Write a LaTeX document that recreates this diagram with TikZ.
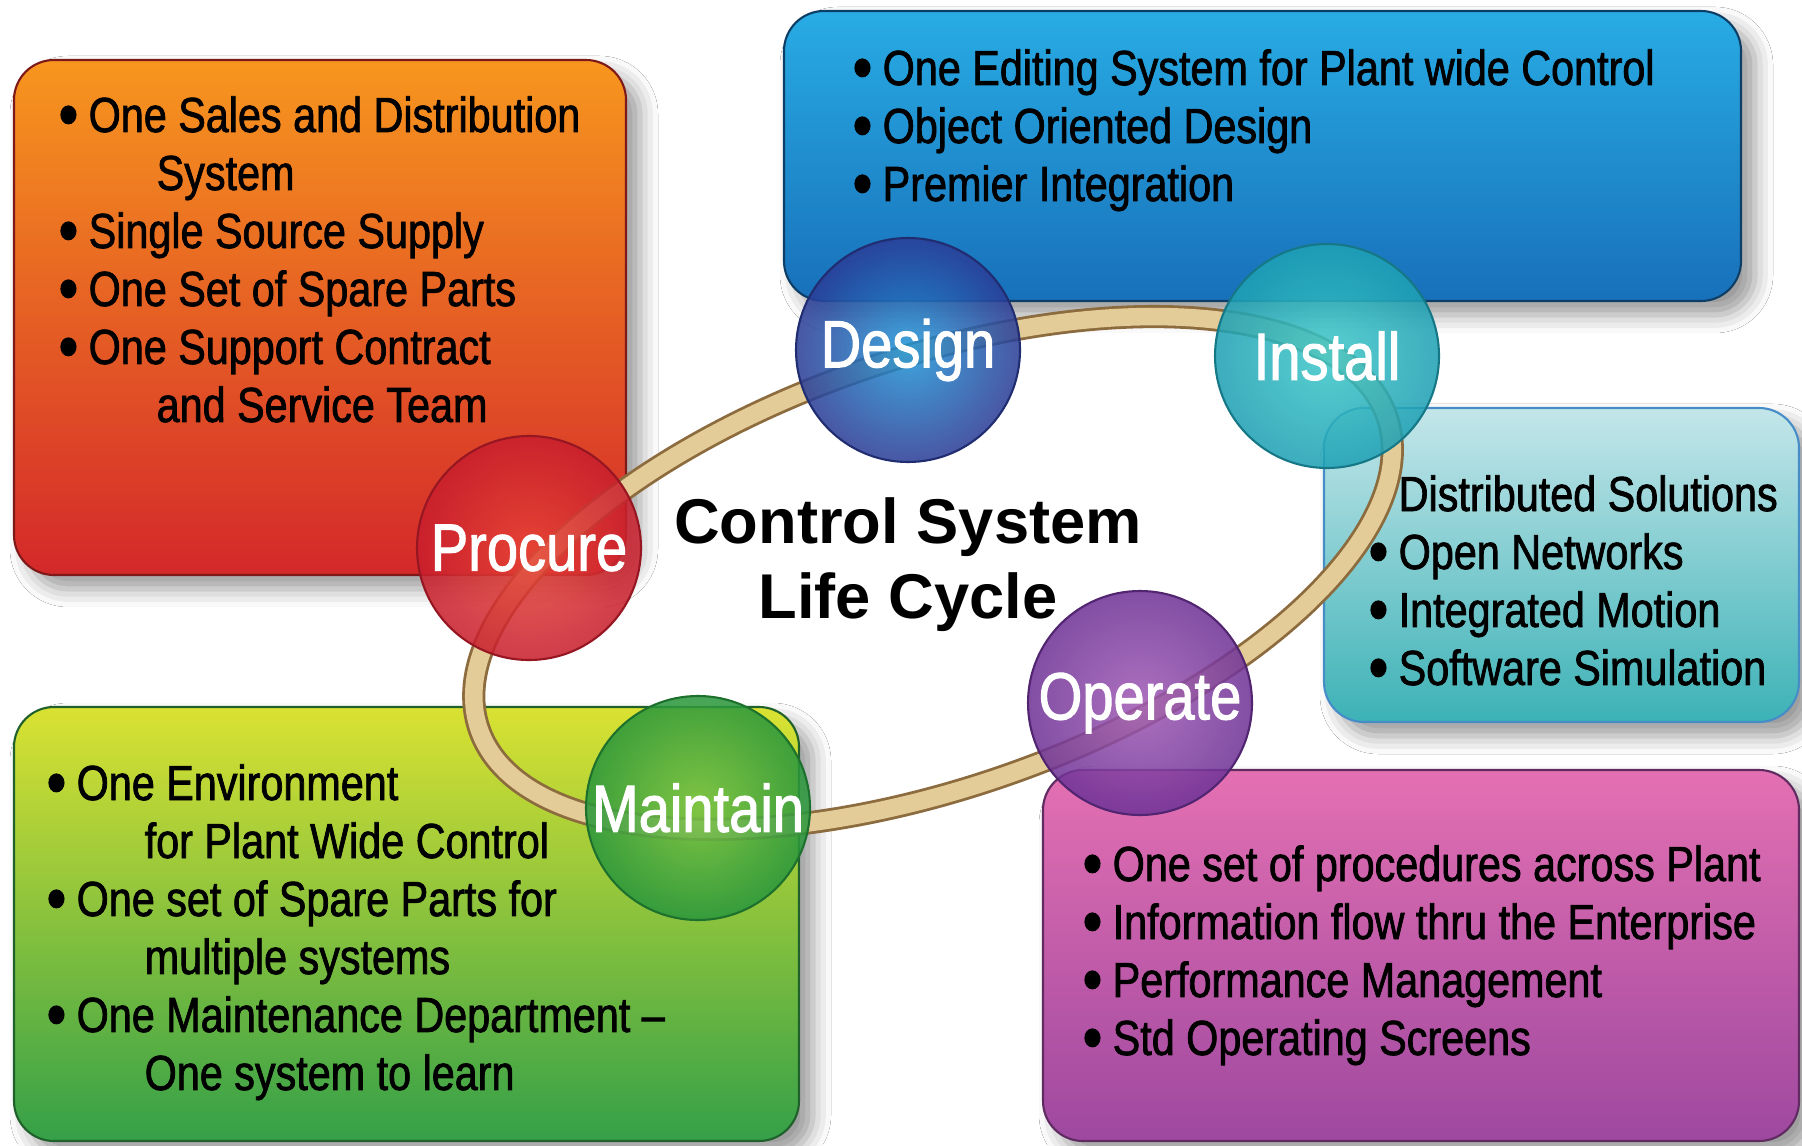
\documentclass[tikz,border=0pt]{standalone}
\usepackage{graphicx}
\usepackage{fontspec}
\setmainfont{Liberation Sans}
\newfontfamily\narrowfont[FakeStretch=0.84,FakeBold=1.5]{Liberation Sans}
\usetikzlibrary{shadows.blur}

\definecolor{orangetop}{RGB}{247,150,30}
\definecolor{orangebot}{RGB}{212,40,42}
\definecolor{bluetop}{RGB}{40,172,228}
\definecolor{bluebot}{RGB}{24,112,186}
\definecolor{tealtop}{RGB}{196,230,234}
\definecolor{tealbot}{RGB}{60,178,182}
\definecolor{greentop}{RGB}{218,226,50}
\definecolor{greenbot}{RGB}{52,160,72}
\definecolor{pinktop}{RGB}{228,112,178}
\definecolor{pinkbot}{RGB}{158,72,160}
\definecolor{ringtan}{RGB}{228,204,152}
\definecolor{ringbrown}{RGB}{140,108,62}
\definecolor{designin}{RGB}{30,150,215}
\definecolor{designout}{RGB}{43,60,150}
\definecolor{installin}{RGB}{60,200,200}
\definecolor{installout}{RGB}{30,160,180}
\definecolor{procin}{RGB}{232,70,55}
\definecolor{procout}{RGB}{200,30,45}
\definecolor{maintin}{RGB}{120,195,70}
\definecolor{maintout}{RGB}{40,150,60}
\definecolor{operin}{RGB}{160,90,180}
\definecolor{operout}{RGB}{110,50,150}

\newcommand{\bul}[1]{\hbox{\makebox[0.30cm][l]{\raisebox{-0.1em}{\scalebox{1.35}{\textbullet}}}#1}}
\newcommand{\cnt}[1]{\hbox{\hspace*{0.98cm}#1}}
\newcommand{\hdl}[1]{\hbox{\hspace*{0.30cm}#1}}
\newcommand{\itemlist}[1]{\vtop{\baselineskip=16.5pt #1}}

\begin{document}
\begin{tikzpicture}[
    every node/.append style={inner sep=0pt},
    card/.style={rounded corners=0.4cm, line width=0.6pt,
        blur shadow={shadow xshift=0.14cm, shadow yshift=-0.14cm, shadow blur radius=0.18cm, shadow opacity=40}},
    listtext/.style={anchor=base west, font=\narrowfont\fontsize{14pt}{16.5pt}\selectfont},
    phase/.style={circle, minimum size=2.24cm, line width=0.6pt, fill opacity=0.86, text opacity=1,
        text=white, font=\narrowfont\fontsize{19pt}{22pt}\selectfont},
    ball/.style 2 args={inner color=#1, outer color=#2, draw=#2!75!black}
  ]
    \useasboundingbox (0,0) rectangle (18.02,11.45);
    \fill[white] (0,0) rectangle (18.02,11.45);

    \node[card, top color=orangetop, bottom color=orangebot, draw=orangebot!60!black,
        minimum width=6.12cm, minimum height=5.15cm] (procbox) at (3.20,8.275) {};
    \node[card, top color=bluetop, bottom color=bluebot, draw=bluebot!55!black,
        minimum width=9.57cm, minimum height=2.90cm] (designbox) at (12.625,9.89) {};
    \node[card, top color=tealtop, bottom color=tealbot, draw=bluebot!80!white,
        minimum width=4.75cm, minimum height=3.14cm] (installbox) at (15.615,5.80) {};
    \node[card, top color=greentop, bottom color=greenbot, draw=greenbot!60!black,
        minimum width=7.85cm, minimum height=4.34cm] (maintbox) at (4.065,2.21) {};
    \node[card, top color=pinktop, bottom color=pinkbot, draw=pinkbot!60!black,
        minimum width=7.56cm, minimum height=3.71cm] (operbox) at (14.21,1.895) {};

    \node[listtext] (proctext) at (0.58,10.13) {\itemlist{%
        \bul{One Sales and Distribution}\cnt{System}%
        \bul{Single Source Supply}\bul{One Set of Spare Parts}%
        \bul{One Support Contract}\cnt{and Service Team}}};
    \node[listtext] (designtext) at (8.52,10.60) {\itemlist{%
        \bul{One Editing System for Plant wide Control}%
        \bul{Object Oriented Design}\bul{Premier Integration}}};
    \node[listtext] (installtext) at (13.68,6.34) {\itemlist{%
        \hdl{Distributed Solutions}\bul{Open Networks}%
        \bul{Integrated Motion}\bul{Software Simulation}}};
    \node[listtext] (mainttext) at (0.46,3.45) {\itemlist{%
        \bul{One Environment}\cnt{for Plant Wide Control}%
        \bul{One set of Spare Parts for}\cnt{multiple systems}%
        \bul{One Maintenance Department –}\cnt{One system to learn}}};
    \node[listtext] (opertext) at (10.82,2.64) {\itemlist{%
        \bul{One set of procedures across Plant}%
        \bul{Information flow thru the Enterprise}%
        \bul{Performance Management}\bul{Std Operating Screens}}};

    \coordinate (hub) at (9.33,5.72);
    \draw[ringbrown, line width=6.6pt, rotate around={19:(hub)}] (hub) ellipse (4.80 and 2.15);
    \draw[ringtan, line width=5pt, rotate around={19:(hub)}] (hub) ellipse (4.80 and 2.15);

    \node[font=\bfseries\fontsize{18pt}{21.3pt}\selectfont, align=center] (title) at (9.08,5.80)
        {Control System\\Life Cycle};

    \node[phase, ball={designin}{designout}] (design) at (9.08,7.95) {Design};
    \node[phase, ball={installin}{installout}] (install) at (13.27,7.89) {Install};
    \node[phase, ball={procin}{procout}] (procure) at (5.29,5.97) {Procure};
    \node[phase, ball={maintin}{maintout}] (maintain) at (6.98,3.37) {Maintain};
    \node[phase, ball={operin}{operout}] (operate) at (11.40,4.42) {Operate};
\end{tikzpicture}
\end{document}
